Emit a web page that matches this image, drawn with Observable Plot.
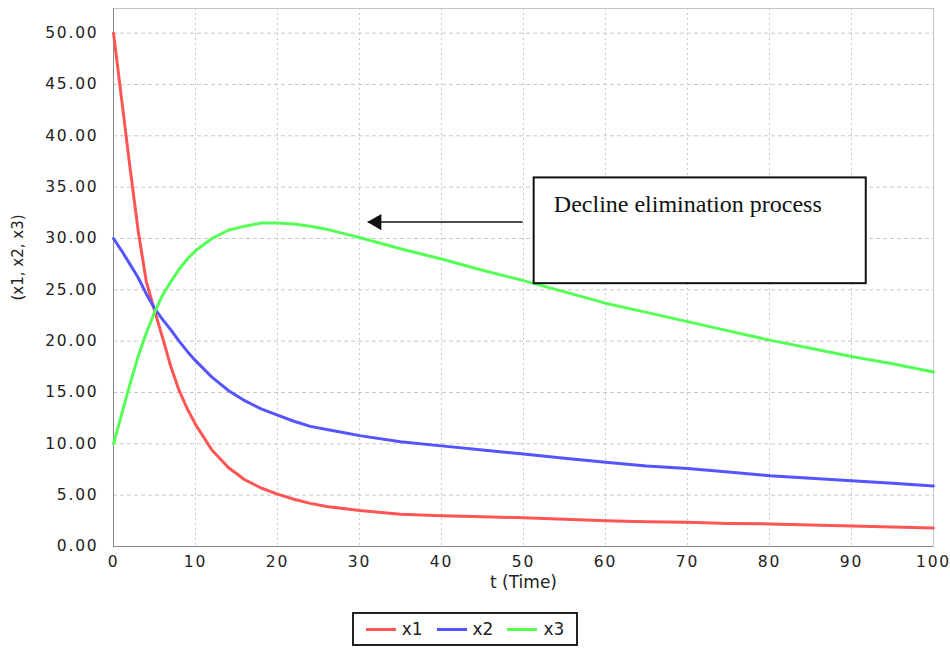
<!DOCTYPE html>
<html>
<head>
<meta charset="utf-8">
<script src="https://cdn.jsdelivr.net/npm/d3@7"></script>
<script src="https://cdn.jsdelivr.net/npm/@observablehq/plot@0.6"></script>
<style>
  body { margin: 0; background: #fff; }
  #chart g[aria-label="x-axis tick label"] text,
  #chart g[aria-label="y-axis tick label"] text { letter-spacing: 1.8px; }
  #legend {
    margin-left: 352px; margin-top: 12px;
    width: 222px; height: 30px;
    border: 2px solid #222;
    display: flex; align-items: center; justify-content: center; gap: 0;
    font-family: "DejaVu Sans", sans-serif; font-size: 17px; color: #222;
    box-sizing: content-box;
  }
  .item { display: flex; align-items: center; margin: 0 7px; }
  .sw { width: 30px; height: 3px; margin-right: 6px; }
</style>
</head>
<body>
<div id="chart"></div>
<div id="legend"></div>
<script>
// ---- data ----
const t  = [0, 1, 2, 3, 4, 5, 6, 7, 8, 9, 10, 12, 14, 16, 18, 20, 22, 24, 26, 28, 30, 35, 40, 45, 50, 55, 60, 65, 70, 75, 80, 85, 90, 95, 100];
const x1 = [50, 43.5, 37, 30.8, 25.8, 23.0, 20.3, 17.5, 15.2, 13.4, 11.9, 9.4, 7.7, 6.5, 5.7, 5.1, 4.6, 4.2, 3.9, 3.7, 3.5, 3.15, 3.0, 2.9, 2.8, 2.65, 2.5, 2.4, 2.35, 2.25, 2.2, 2.1, 2.0, 1.9, 1.8];
const x2 = [30, 28.8, 27.5, 26.2, 24.6, 23.2, 22.1, 21.1, 20.0, 19.0, 18.1, 16.5, 15.2, 14.2, 13.4, 12.8, 12.2, 11.7, 11.4, 11.1, 10.8, 10.2, 9.8, 9.4, 9.0, 8.6, 8.2, 7.85, 7.6, 7.25, 6.9, 6.65, 6.4, 6.15, 5.9];
const x3 = [10, 12.9, 15.8, 18.5, 20.8, 22.8, 24.5, 25.8, 27.0, 28.0, 28.8, 30.0, 30.8, 31.2, 31.5, 31.5, 31.4, 31.2, 30.9, 30.5, 30.1, 29.0, 28.0, 26.9, 25.9, 24.8, 23.7, 22.8, 21.9, 21.0, 20.1, 19.3, 18.5, 17.8, 17.0];
const seriesNames  = ["x1", "x2", "x3"];
const seriesColors = ["#ff5555", "#5555ff", "#55ff55"];
const xTicks = [0, 10, 20, 30, 40, 50, 60, 70, 80, 90, 100];
const yTicks = [0, 5, 10, 15, 20, 25, 30, 35, 40, 45, 50];
const xLabel = "t (Time)";
const yLabel = "(x1, x2, x3)";
const annotationBox   = [{x1: 51.3, x2: 91.8, y1: 25.6, y2: 35.9}];
const annotationText  = [{x: 53.7, y: 32.6, text: "Decline elimination process"}];
const annotationArrow = [{x1: 49.9, x2: 31.0, y: 31.6}];

// ---- table ----
const seriesValues = [x1, x2, x3];
const rows = [];
seriesNames.forEach((name, i) => {
  t.forEach((tt, j) => rows.push({t: tt, value: seriesValues[i][j], series: name}));
});

const plot = Plot.plot({
  width: 950,
  height: 600,
  marginLeft: 113,
  marginRight: 17,
  marginTop: 8,
  marginBottom: 54,
  style: {fontFamily: "DejaVu Sans, sans-serif", fontSize: "15.5px", color: "#222", background: "#fff"},
  x: {domain: [0, 100], ticks: xTicks, label: null, tickSize: 0, tickPadding: 9},
  y: {domain: [0, 52.4], ticks: yTicks, tickFormat: d3.format(".2f"), label: null, tickSize: 0, tickPadding: 15},
  color: {domain: seriesNames, range: seriesColors},
  marks: [
    Plot.gridX(xTicks, {stroke: "#c8c8c8", strokeOpacity: 1, strokeDasharray: "2,3"}),
    Plot.gridY(yTicks, {stroke: "#c8c8c8", strokeOpacity: 1, strokeDasharray: "4,3"}),
    Plot.frame({stroke: "#c4c4c4"}),
    Plot.ruleX([0], {stroke: "#888"}),
    Plot.ruleY([0], {stroke: "#888"}),
    Plot.line(rows, {x: "t", y: "value", z: "series", stroke: "series", strokeWidth: 3, curve: "linear"}),
    Plot.rect(annotationBox, {x1: "x1", x2: "x2", y1: "y1", y2: "y2", fill: "white", stroke: "#111", strokeWidth: 2}),
    Plot.text(annotationText, {x: "x", y: "y", text: "text", textAnchor: "start", lineAnchor: "bottom",
      fontFamily: "Liberation Serif, Times New Roman, serif", fontSize: 24, fill: "#111"}),
    Plot.link(annotationArrow, {x1: "x1", x2: "x2", y1: "y", y2: "y", stroke: "#111", strokeWidth: 1.5}),
    Plot.dot(annotationArrow, {x: "x2", y: "y", symbol: "triangle", r: 6, rotate: -90, fill: "#111", stroke: "none", dx: 9}),
    Plot.text([xLabel], {frameAnchor: "bottom", dy: 41, fontSize: 17, fill: "#222"}),
    Plot.text([yLabel], {frameAnchor: "left", dx: -95, dy: 23, rotate: -90, fontSize: 15, fill: "#222"})
  ]
});
document.getElementById("chart").appendChild(plot);

// ---- legend ----
const legend = document.getElementById("legend");
seriesNames.forEach((name, i) => {
  const item = document.createElement("div");
  item.className = "item";
  const sw = document.createElement("div");
  sw.className = "sw";
  sw.style.background = seriesColors[i];
  const label = document.createElement("span");
  label.textContent = name;
  item.appendChild(sw);
  item.appendChild(label);
  legend.appendChild(item);
});
</script>
</body>
</html>
